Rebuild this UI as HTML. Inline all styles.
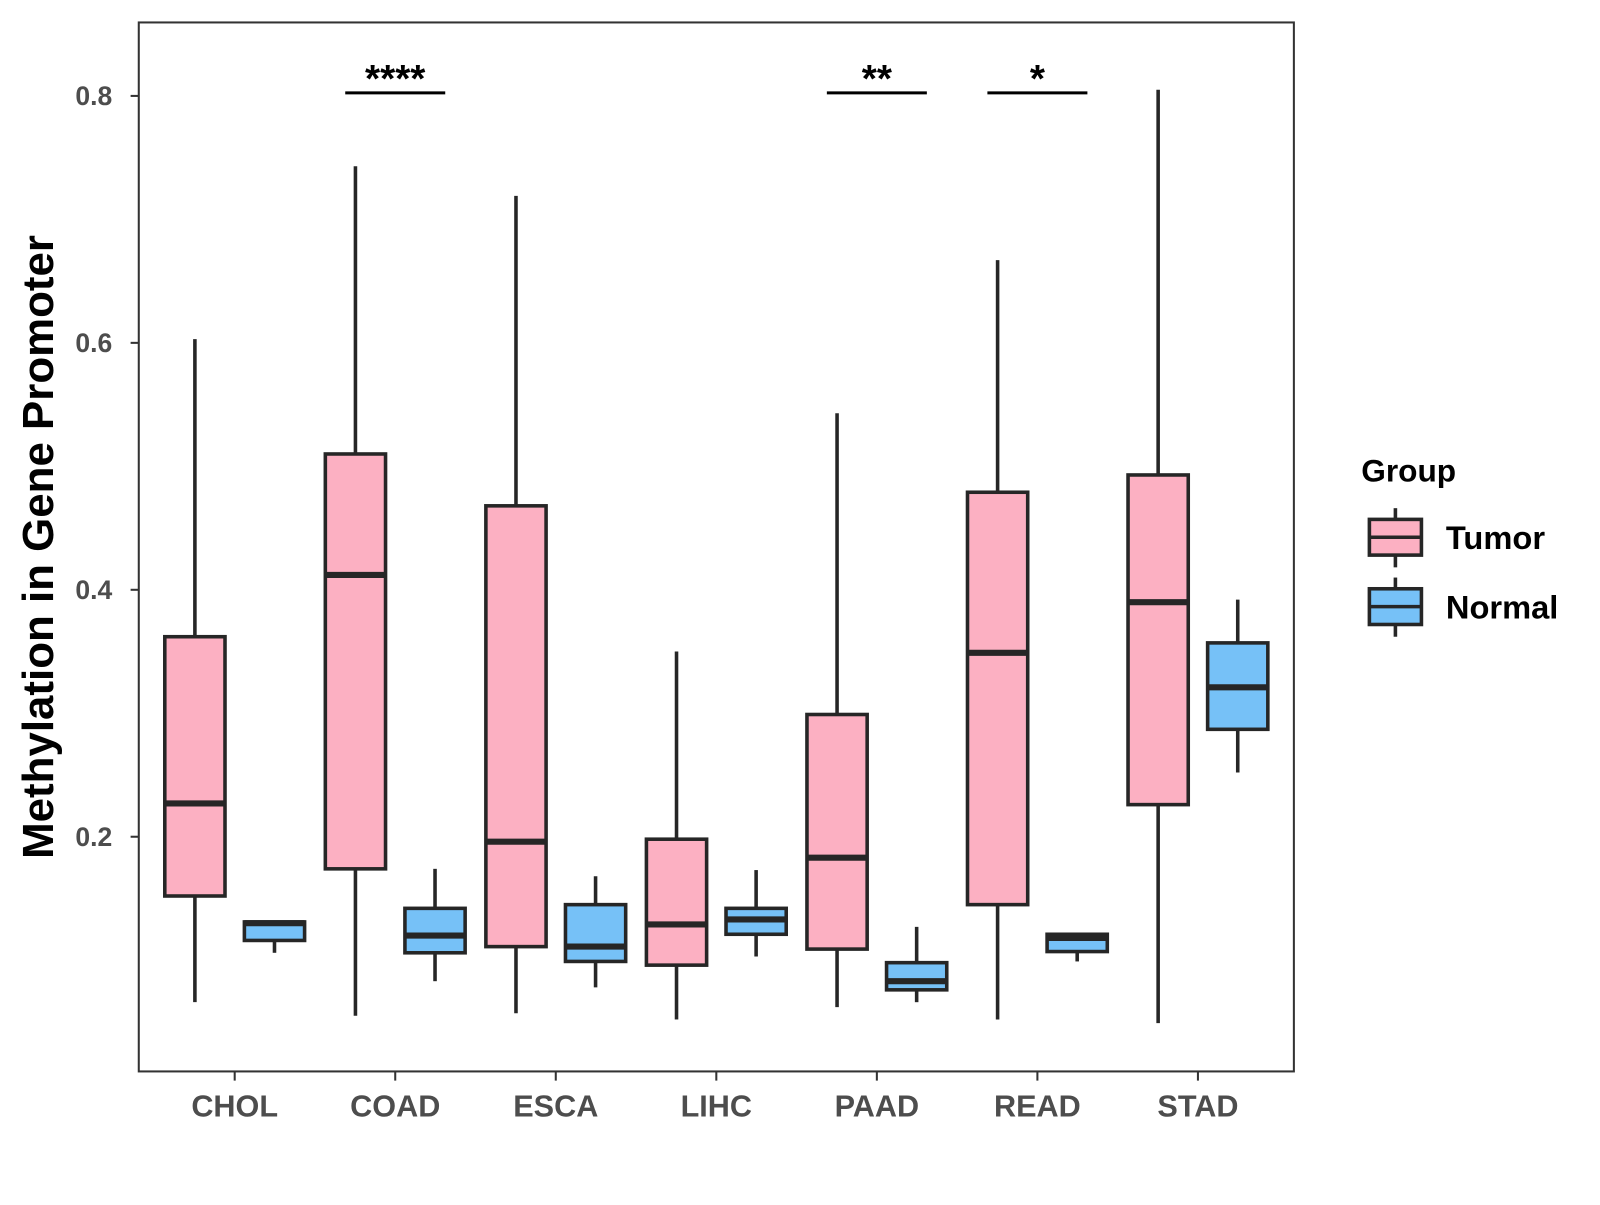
<!DOCTYPE html>
<html><head><meta charset="utf-8"><style>
body{margin:0;background:#fff}
svg text{font-family:"Liberation Sans",Arial,sans-serif;font-weight:bold}
</style></head><body>
<svg id="chart" width="1600" height="1200" viewBox="0 0 1568 1176" xmlns="http://www.w3.org/2000/svg">
<rect x="0" y="0" width="1568" height="1176" fill="#fff"/>
<rect x="136" y="22" width="1132" height="1028" fill="none" stroke="#333" stroke-width="2"/>
<text transform="translate(52,536) rotate(-90)" text-anchor="middle" font-size="43" fill="#000">Methylation in Gene Promoter</text>
<g id="yaxis"></g>
<g id="xaxis"></g>
<g id="boxes"></g>
<g id="sig"></g>
<g>
<text x="1334" y="472" font-size="31" fill="#000">Group</text>
<g>
<line x1="1367.5" y1="498" x2="1367.5" y2="556" stroke="#262626" stroke-width="3.5"/>
<rect x="1342" y="509" width="51" height="35" fill="#FCB0C2" stroke="#262626" stroke-width="3.5"/>
<line x1="1342" y1="526.5" x2="1393" y2="526.5" stroke="#262626" stroke-width="3.5"/>
<text x="1417" y="538" font-size="32" fill="#000">Tumor</text></g>
<g>
<line x1="1367.5" y1="566" x2="1367.5" y2="624" stroke="#262626" stroke-width="3.5"/>
<rect x="1342" y="577" width="51" height="35" fill="#76C1F7" stroke="#262626" stroke-width="3.5"/>
<line x1="1342" y1="594.5" x2="1393" y2="594.5" stroke="#262626" stroke-width="3.5"/>
<text x="1417" y="606" font-size="32" fill="#000">Normal</text></g>
</g>
</svg>
<script>
const categories=["CHOL","COAD","ESCA","LIHC","PAAD","READ","STAD"];
const tumorStats=[[0.066,0.152,0.227,0.362,0.603],[0.055,0.174,0.412,0.510,0.743],[0.057,0.111,0.196,0.468,0.719],[0.052,0.096,0.129,0.198,0.350],[0.062,0.109,0.183,0.299,0.543],[0.052,0.145,0.349,0.479,0.667],[0.049,0.226,0.390,0.493,0.805]];
const normalStats=[[0.106,0.116,0.130,0.131,0.131],[0.083,0.106,0.120,0.142,0.174],[0.078,0.099,0.111,0.145,0.168],[0.103,0.121,0.133,0.142,0.173],[0.066,0.076,0.083,0.098,0.127],[0.099,0.107,0.118,0.121,0.121],[0.252,0.287,0.321,0.357,0.392]];
const yTicks=[0.2,0.4,0.6,0.8];
const sigCategories=["COAD","PAAD","READ"];
const sigLabels=["****","**","*"];
const NS="http://www.w3.org/2000/svg";
function y(v){return 820-(v-0.2)*1210;}
function x(i){return 230+i*157.33;}
function mk(tag,attrs,parent){const e=document.createElementNS(NS,tag);for(const k in attrs)e.setAttribute(k,attrs[k]);parent.appendChild(e);return e;}
const ya=document.getElementById('yaxis'),xa=document.getElementById('xaxis'),bx=document.getElementById('boxes'),sg=document.getElementById('sig');
yTicks.forEach(t=>{
  const l=mk('line',{x1:128,x2:136,y1:y(t),y2:y(t),stroke:'#333','stroke-width':2},ya);
  
  
  const tx=mk('text',{x:110,y:y(t)+9,'text-anchor':'end','font-size':26,fill:'#4d4d4d'},ya);
  tx.textContent=t.toFixed(1);
  
  
});
categories.forEach((c,i)=>{
  const l=mk('line',{x1:x(i),x2:x(i),y1:1050,y2:1059,stroke:'#333','stroke-width':2},xa);
  
  
  const tx=mk('text',{x:x(i),y:1094,'text-anchor':'middle','font-size':30,fill:'#4d4d4d'},xa);
  tx.textContent=c;
  
  
});
function box(s,cx,fill,name){
  const g=mk('g',{},bx);
  
  
  mk('line',{x1:cx,x2:cx,y1:y(s[4]),y2:y(s[3]),stroke:'#262626','stroke-width':3.5},g);
  mk('line',{x1:cx,x2:cx,y1:y(s[1]),y2:y(s[0]),stroke:'#262626','stroke-width':3.5},g);
  mk('rect',{x:cx-29.5,y:y(s[3]),width:59,height:Math.max(y(s[1])-y(s[3]),0.5),fill:fill,stroke:'#262626','stroke-width':3.5},g);
  mk('line',{x1:cx-29.5,x2:cx+29.5,y1:y(s[2]),y2:y(s[2]),stroke:'#262626','stroke-width':6},g);
}
categories.forEach((c,i)=>{
  box(tumorStats[i],x(i)-39,'#FCB0C2','box-tumor-'+c.toLowerCase());
  box(normalStats[i],x(i)+39,'#76C1F7','box-normal-'+c.toLowerCase());
});
sigCategories.forEach((c,k)=>{
  const i=categories.indexOf(c);
  const l=mk('line',{x1:x(i)-49,x2:x(i)+49,y1:91,y2:91,stroke:'#000','stroke-width':3},sg);
  
  
  const tx=mk('text',{x:x(i),y:90,'text-anchor':'middle','font-size':38,fill:'#000'},sg);
  tx.textContent=sigLabels[k];
  
  
});
</script>
</body></html>
